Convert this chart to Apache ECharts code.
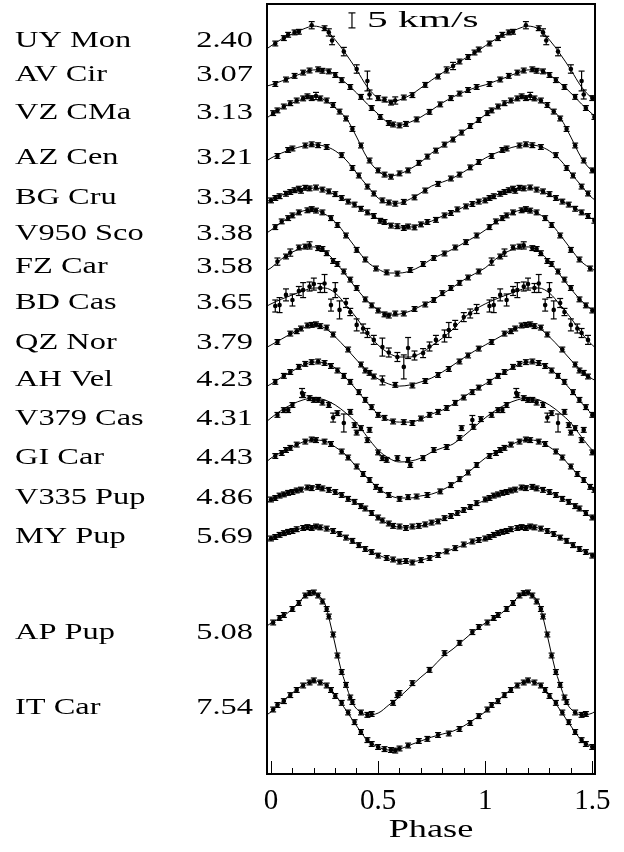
<!DOCTYPE html>
<html><head><meta charset="utf-8">
<script src="https://cdn.jsdelivr.net/npm/echarts@6/dist/echarts.min.js"></script>
<style>html,body{margin:0;padding:0;background:#fff}#c{width:624px;height:852px}</style>
</head><body><div id="c"></div>
<script>
// ---------------- DATA ----------------
const STARS = ['UY Mon','AV Cir','VZ CMa','AZ Cen','BG Cru','V950 Sco','FZ Car','BD Cas','QZ Nor','AH Vel','V379 Cas','GI Car','V335 Pup','MY Pup','AP Pup','IT Car'];
const PERIODS = ['2.40','3.07','3.13','3.21','3.34','3.38','3.58','3.65','3.79','4.23','4.31','4.43','4.86','5.69','5.08','7.54'];
// vertical offset of each curve (km/s, axis units)
const OFFSETS = [237,226,213,200,189,178,164,151,140,127,115,102,89,77,40,20];
const X_TICKS = [0, 0.5, 1, 1.5];
const SCALE_BAR_KMS = 5;

// fitted curves: relative velocity (km/s) on one cycle
const PHASE_GRID = [0,0.05,0.1,0.15,0.2,0.25,0.3,0.35,0.4,0.45,0.5,0.55,0.6,0.65,0.7,0.75,0.8,0.85,0.9,0.95];
const AP_PHASES = [0,0.05,0.1,0.15,0.2,0.225,0.25,0.275,0.3,0.325,0.35,0.375,0.4,0.45,0.5,0.55,0.6,0.65,0.7,0.75,0.8,0.85,0.9,0.95];

const UY_MON_FIT  = [5.7,8.0,9.7,11.3,12.3,11.3,7.7,3.0,-2.3,-8.0,-11.7,-13.0,-12.3,-10.7,-8.3,-5.7,-3.3,-1.0,1.3,3.3];
const AV_CIR_FIT  = [3.7,5.0,6.3,7.7,8.7,8.7,7.0,4.3,1.0,-2.7,-6.0,-9.0,-9.7,-8.7,-7.0,-4.7,-2.3,-0.3,1.3,2.7];
const VZ_CMA_FIT  = [6.7,9.0,10.7,12.0,12.7,11.7,9.0,5.7,-0.7,-7.7,-12.0,-13.7,-13.0,-11.3,-9.0,-6.0,-3.7,-1.3,1.3,4.0];
const AZ_CEN_FIT  = [5.3,7.0,8.3,9.3,9.7,9.3,7.7,4.7,0.3,-4.0,-8.0,-9.7,-9.7,-8.3,-6.3,-4.0,-2.7,-1.3,0.7,3.0];
const BG_CRU_FIT  = [2.3,4.0,5.0,6.0,6.3,5.7,4.0,2.3,0.3,-1.7,-4.0,-5.7,-6.7,-6.7,-5.7,-4.7,-3.0,-1.7,0.0,1.3];
const V950_SCO_FIT= [3.3,6.0,8.0,9.7,10.0,8.7,6.0,1.7,-3.0,-7.3,-9.7,-11.0,-11.0,-10.3,-8.7,-6.3,-4.7,-3.0,-1.0,1.0];
const FZ_CAR_FIT  = [4.7,7.7,10.0,11.3,11.7,10.3,6.7,2.3,-2.3,-6.3,-9.3,-11.0,-10.7,-9.7,-8.0,-6.3,-4.0,-1.7,0.7,2.7];
const BD_CAS_FIT  = [5.7,7.3,8.7,10.0,11.0,11.0,9.3,5.3,1.0,-4.0,-8.0,-10.7,-12.0,-12.0,-10.7,-8.3,-5.7,-2.7,1.0,3.7];
const QZ_NOR_FIT  = [3.0,5.0,7.0,8.7,9.7,8.7,5.7,2.0,-2.0,-5.7,-8.3,-10.0,-10.7,-10.3,-9.3,-8.0,-6.0,-3.7,-1.3,1.0];
const AH_VEL_FIT  = [3.0,5.3,7.3,9.3,10.3,10.0,8.3,5.0,1.0,-3.3,-7.0,-9.0,-9.7,-9.7,-8.7,-7.0,-5.7,-3.7,-1.3,1.0];
const V379_CAS_FIT= [3.7,6.3,8.3,9.7,10.3,9.7,8.0,5.3,2.0,-2.7,-7.0,-9.7,-11.0,-10.7,-9.7,-7.7,-6.3,-5.0,-2.3,0.7];
const GI_CAR_FIT  = [3.3,5.3,7.0,8.7,9.3,9.0,7.0,4.3,0.3,-3.3,-6.7,-9.0,-10.0,-10.0,-9.3,-8.7,-7.3,-5.3,-2.7,0.3];
const V335_PUP_FIT= [2.3,4.0,5.3,6.0,6.7,6.3,5.0,3.3,1.3,-1.0,-3.7,-5.7,-6.7,-6.7,-6.3,-5.3,-4.0,-2.7,-1.0,0.7];
const MY_PUP_FIT  = [1.3,3.0,4.0,5.0,5.3,5.0,3.7,2.0,-0.3,-2.3,-4.0,-5.3,-6.0,-6.3,-5.7,-4.7,-3.3,-2.0,-0.7,0.7];
const AP_PUP_FIT  = [10.3,12.3,15.0,18.7,20.5,19.3,17.0,10.7,3.0,-4.7,-10.3,-15.3,-18.3,-20.3,-19.7,-17.0,-14.3,-11.0,-7.7,-4.7,-1.0,1.7,4.7,7.7];
const IT_CAR_FIT  = [0.7,4.0,7.0,9.7,11.0,10.0,6.3,1.3,-4.0,-8.7,-11.0,-12.0,-11.7,-10.3,-9.0,-7.7,-6.7,-5.7,-4.0,-1.7];

// observations: [phase, relative velocity km/s, error km/s (optional)]
const UY_MON_OBS = [[.02,6.5],[.06,8.3],[.08,9.4],[.11,10.2],[.13,10.4],[.19,12.6,1.2],[.25,11.6],[.27,10.2,1.2],[.285,7.5,1.4],[.34,3.8,1.4],[.40,-2.0,1.4],[.45,-6.0,3.3],[.46,-10.5,1.5],[.50,-11.7],[.53,-12.2],[.56,-13.2],[.58,-12.5,1.2],[.62,-11.5],[.66,-10.7],[.72,-7.3],[.78,-4.5],[.82,-2.3,1.0],[.85,-1.0,1.2],[.88,0.5],[.92,2.0],[.95,3.5],[.97,4.5]];
const AV_CIR_OBS = [[.02,4.0],[.07,5.5],[.11,6.7],[.15,7.8],[.18,8.5],[.22,8.9],[.24,8.4],[.27,8.2],[.30,7.0],[.33,5.3],[.37,3.0],[.42,-0.3],[.47,-4.0],[.51,-7.0],[.55,-9.0],[.57,-9.5],[.60,-9.8],[.63,-9.3],[.68,-7.8],[.74,-5.3],[.79,-2.8],[.84,-0.7],[.88,0.8],[.92,2.0],[.96,3.0]];
const VZ_CMA_OBS = [[.01,7.3],[.03,8.2],[.06,9.5],[.09,10.6],[.12,11.5],[.15,12.2],[.17,12.9],[.19,12.3],[.21,13.0,1.2],[.23,12.2],[.26,11.5],[.29,10.0],[.32,7.8],[.35,5.5],[.38,2.0],[.42,-3.5],[.46,-8.5],[.50,-11.8],[.53,-13.2],[.56,-13.9],[.60,-12.8],[.64,-11.8],[.69,-9.3],[.73,-7.2],[.77,-5.2],[.81,-3.2],[.85,-1.5],[.89,0.8],[.93,3.0],[.97,5.0]];
const AZ_CEN_OBS = [[.03,6.0],[.08,8.0],[.10,8.5],[.16,9.5],[.19,9.9],[.22,9.6],[.26,9.0],[.33,6.3],[.38,2.0],[.41,-0.5],[.45,-4.2],[.48,-6.5],[.52,-8.8],[.55,-9.5],[.58,-9.9],[.62,-9.3],[.67,-7.8],[.72,-5.5],[.78,-3.3],[.84,-1.5],[.88,-0.2],[.93,2.2],[.97,4.0]];
const BG_CRU_OBS = [[.0,2.2],[.02,3.0],[.04,3.6],[.07,4.4],[.09,5.0],[.11,5.6],[.13,6.1],[.14,5.4],[.16,6.4],[.18,6.2],[.21,6.5],[.24,5.8],[.27,5.2],[.30,4.3],[.33,3.0],[.36,1.8],[.39,0.8],[.42,-0.6],[.45,-1.8],[.48,-3.0],[.51,-4.6],[.53,-5.0],[.56,-6.2],[.59,-6.4],[.62,-7.0],[.64,-6.5],[.67,-6.8],[.70,-5.8],[.73,-5.0],[.77,-4.3],[.81,-2.8],[.84,-2.0],[.87,-0.8],[.91,0.2],[.94,1.0],[.97,1.8]];
const V950_SCO_OBS = [[.02,4.3],[.05,6.2],[.08,7.3],[.10,8.2],[.13,9.2],[.17,9.9],[.19,10.3],[.21,9.8],[.24,9.2],[.28,7.3],[.31,5.0],[.35,1.5],[.40,-3.3],[.44,-6.5],[.49,-9.5],[.54,-10.8],[.59,-11.2],[.65,-10.0],[.71,-8.0],[.76,-6.0],[.81,-4.5],[.86,-2.5],[.91,-0.7],[.96,1.5]];
const FZ_CAR_OBS = [[.03,6.8,1.2],[.07,8.5],[.09,9.8,1.2],[.13,11.5],[.16,11.8],[.18,12.2,1.2],[.22,11.3],[.24,11.0],[.26,9.6],[.29,7.0],[.31,6.0],[.34,3.5],[.37,0.8],[.40,-2.0],[.44,-5.8],[.47,-7.8],[.50,-9.5],[.53,-10.8],[.55,-11.2],[.58,-10.5],[.62,-10.5],[.67,-9.0],[.72,-7.5],[.76,-6.0],[.80,-3.7],[.84,-2.0],[.88,-0.3],[.92,1.5],[.97,3.5]];
const BD_CAS_OBS = [[.02,5.0,2.0],[.04,5.3,2.5],[.07,8.7,2.0],[.10,7.0,2.0],[.13,10.0,1.5],[.15,10.3,2.5],[.18,11.5,1.5],[.20,12.3,2.0],[.23,11.0,1.5],[.25,12.5,3.0],[.28,5.3,2.0],[.30,10.3,2.5],[.32,3.7,3.0],[.35,6.0,1.5],[.37,3.0,1.2],[.40,-1.3,2.0],[.43,-2.5,1.5],[.45,-4.0,1.5],[.48,-6.3,1.5],[.52,-8.7,3.0],[.55,-10.5,1.5],[.59,-12.0,1.5],[.62,-15.3,4.0],[.64,-9.0,3.5],[.67,-11.5,1.5],[.71,-10.7,1.5],[.74,-8.5,1.5],[.77,-6.3,1.5],[.81,-5.0,2.0],[.83,-3.0,2.5],[.86,-1.3,1.5],[.90,1.3,1.5],[.93,2.5,1.5],[.96,4.0,1.5]];
const QZ_NOR_OBS = [[.03,4.0],[.09,6.8],[.12,7.6],[.14,8.5],[.17,9.5],[.19,9.7],[.21,9.9],[.23,9.3],[.26,8.8],[.29,6.5],[.36,1.5],[.42,-3.5],[.44,-5.5],[.46,-6.3],[.48,-7.5],[.52,-8.8,1.5],[.58,-10.3],[.66,-10.5],[.72,-9.0],[.78,-7.0],[.83,-5.0],[.88,-2.5],[.92,-0.5],[.97,1.8]];
const AH_VEL_OBS = [[.02,3.7],[.06,5.7],[.09,7.0],[.13,8.7],[.16,9.7],[.19,10.3],[.22,10.5],[.25,10.0],[.28,9.0],[.31,7.5],[.34,5.7],[.37,3.7],[.41,0.3],[.44,-2.3],[.47,-4.7],[.50,-7.3],[.53,-8.3],[.57,-9.5],[.62,-9.7],[.66,-10.0],[.70,-8.5],[.74,-7.3],[.78,-6.3],[.82,-5.0],[.86,-3.3],[.90,-1.5],[.94,0.3],[.97,1.8]];
const V379_CAS_OBS = [[.03,4.7],[.06,6.3],[.08,6.3],[.10,8.0],[.145,12.0,1.5],[.15,11.3],[.18,10.3],[.20,9.7],[.22,9.7],[.24,8.8],[.27,8.0],[.29,3.8,1.5],[.31,5.3],[.34,2.0,3.0],[.37,5.7],[.39,1.3],[.40,-1.2],[.42,0.3],[.45,-3.7],[.46,-0.3],[.50,-7.8],[.52,-9.7],[.54,-10.3],[.59,-9.7],[.64,-10.3],[.65,-12.0],[.71,-9.7],[.76,-7.0],[.82,-6.0],[.88,-3.0],[.89,0.3],[.94,3.0,1.5],[.945,0.7],[.98,3.3]];
const GI_CAR_OBS = [[.02,4.0],[.05,5.0],[.07,6.0],[.09,6.7],[.12,7.8],[.16,8.8],[.19,9.5],[.21,9.3],[.25,8.8],[.28,8.0],[.33,5.5],[.36,3.5],[.40,0.5],[.43,-2.0],[.46,-4.0],[.49,-6.3],[.51,-7.3],[.55,-9.0],[.60,-10.3],[.64,-9.7],[.68,-9.5],[.73,-9.0],[.79,-7.8],[.84,-5.7],[.88,-3.7],[.92,-1.5],[.96,1.0]];
const V335_PUP_OBS = [[.0,2.5],[.02,3.0],[.04,3.8],[.06,4.2],[.08,4.7],[.10,5.0],[.12,5.5],[.14,5.8],[.17,6.5],[.19,6.3],[.22,6.7],[.24,6.2],[.27,5.7],[.30,5.0],[.33,4.0],[.36,2.7],[.39,1.7],[.42,0.3],[.44,-0.5],[.47,-2.0],[.50,-3.5],[.52,-4.5],[.55,-5.5],[.57,-6.3],[.60,-6.5],[.63,-7.0],[.66,-6.5],[.69,-6.3],[.72,-5.8],[.75,-5.2],[.78,-4.8],[.81,-3.7],[.84,-3.0],[.87,-2.0],[.90,-1.0],[.93,0.0],[.96,1.3]];
const MY_PUP_OBS = [[.0,1.5],[.02,2.0],[.04,2.7],[.06,3.3],[.08,3.7],[.10,4.0],[.12,4.6],[.15,5.0],[.17,5.3],[.19,5.0],[.21,5.5],[.23,5.2],[.26,4.8],[.29,4.0],[.32,3.0],[.35,1.8],[.38,0.7],[.41,-0.7],[.44,-2.0],[.47,-3.0],[.50,-4.2],[.54,-5.0],[.57,-5.5],[.60,-6.2],[.63,-6.0],[.66,-6.5],[.70,-5.7],[.74,-5.0],[.78,-4.0],[.82,-2.8],[.86,-1.7],[.90,-0.5],[.94,0.5],[.97,1.0]];
const AP_PUP_OBS = [[.01,10.5],[.04,12.0],[.06,13.0],[.10,15.0],[.13,17.0],[.16,19.5],[.18,20.3],[.20,20.5],[.22,19.5],[.24,17.5],[.26,15.0],[.27,12.5],[.29,6.5],[.31,-0.5],[.33,-6.0],[.35,-10.3],[.37,-14.5],[.38,-16.0],[.42,-19.5],[.45,-20.3],[.47,-20.0],[.57,-16.3],[.59,-13.7],[.60,-13.0],[.66,-9.7],[.74,-5.3],[.81,0.3],[.88,3.7],[.94,7.3],[.97,9.0]];
const IT_CAR_OBS = [[.01,1.5],[.03,3.0],[.06,4.3],[.09,6.3],[.12,8.0],[.15,9.5],[.18,10.5],[.20,11.2],[.23,10.5],[.26,9.5],[.28,8.0],[.30,6.0],[.33,3.7],[.36,0.5],[.39,-2.7],[.42,-6.0],[.45,-8.7],[.47,-10.0],[.50,-11.0],[.53,-11.7],[.56,-12.0],[.58,-12.2],[.60,-11.5],[.64,-10.5],[.69,-9.0],[.73,-8.3],[.78,-7.0],[.83,-6.5],[.88,-5.0],[.93,-3.0],[.97,-0.7]];

// ---------------- ASSEMBLY ----------------
const FITS = [UY_MON_FIT,AV_CIR_FIT,VZ_CMA_FIT,AZ_CEN_FIT,BG_CRU_FIT,V950_SCO_FIT,FZ_CAR_FIT,BD_CAS_FIT,QZ_NOR_FIT,AH_VEL_FIT,V379_CAS_FIT,GI_CAR_FIT,V335_PUP_FIT,MY_PUP_FIT,AP_PUP_FIT,IT_CAR_FIT];
const FIT_PHASES = FITS.map((f,i)=> i===14 ? AP_PHASES : PHASE_GRID);
const OBS = [UY_MON_OBS,AV_CIR_OBS,VZ_CMA_OBS,AZ_CEN_OBS,BG_CRU_OBS,V950_SCO_OBS,FZ_CAR_OBS,BD_CAS_OBS,QZ_NOR_OBS,AH_VEL_OBS,V379_CAS_OBS,GI_CAR_OBS,V335_PUP_OBS,MY_PUP_OBS,AP_PUP_OBS,IT_CAR_OBS];

// layout (pixels)
const PX_PER_UNIT = 214.2, X0 = 271, BOX_L = 267, BOX_R = 595, BOX_T = 4, BOX_B = 774;
const XMIN = (BOX_L - X0) / PX_PER_UNIT, XMAX = (BOX_R - X0) / PX_PER_UNIT;
const YMAX = (BOX_B - BOX_T) / 3;   // 3 px per km/s
const LABEL_Y = [41,75,113,158,198,234,267,303,343,380,419,458,498,537,633,708];
const FONT = '"Liberation Serif", "Times New Roman", serif';

const series = [];
FITS.forEach((fit, i) => {
  const ph = FIT_PHASES[i];
  const data = [];
  [-1, 0, 1].forEach(k => {
    ph.forEach((p, j) => {
      const x = p + k;
      if (x >= -0.12 && x <= 1.62) data.push([x, OFFSETS[i] + fit[j]]);
    });
  });
  series.push({
    type: 'line', xAxisIndex: 0, yAxisIndex: 0, data, smooth: 0.35, showSymbol: false,
    lineStyle: { color: '#000', width: 1 }, silent: true, clip: true, z: 2
  });
  const pts = [];
  OBS[i].forEach(o => {
    [-1, 0, 1].forEach(k => {
      const x = o[0] + k;
      if (x >= XMIN && x <= XMAX) pts.push([x, OFFSETS[i] + o[1], o[2] != null ? o[2] : 0.8]);
    });
  });
  series.push({
    type: 'custom', xAxisIndex: 0, yAxisIndex: 0, data: pts, silent: true, clip: true, z: 3,
    renderItem: (params, api) => {
      const x = api.value(0), v = api.value(1), e = api.value(2);
      const c = api.coord([x, v]), t = api.coord([x, v + e]), b = api.coord([x, v - e]);
      const hw = 3;
      const st = { stroke: '#000', lineWidth: 1.2 };
      return { type: 'group', children: [
        { type: 'line', shape: { x1: c[0], y1: t[1], x2: c[0], y2: b[1] }, style: st },
        { type: 'line', shape: { x1: c[0]-hw, y1: t[1], x2: c[0]+hw, y2: t[1] }, style: st },
        { type: 'line', shape: { x1: c[0]-hw, y1: b[1], x2: c[0]+hw, y2: b[1] }, style: st },
        { type: 'circle', shape: { cx: c[0], cy: c[1], r: 2.3 }, style: { fill: '#000' } }
      ]};
    }
  });
});

// 5 km/s scale bar
series.push({
  type: 'custom', xAxisIndex: 0, yAxisIndex: 0, data: [[0.378, 251.2, SCALE_BAR_KMS]], silent: true, z: 4,
  renderItem: (params, api) => {
    const x = api.value(0), v = api.value(1), len = api.value(2);
    const t = api.coord([x, v + len/2]), b = api.coord([x, v - len/2]);
    const hw = 3.5, st = { stroke: '#000', lineWidth: 1.2 };
    return { type: 'group', children: [
      { type: 'line', shape: { x1: t[0], y1: t[1], x2: t[0], y2: b[1] }, style: st },
      { type: 'line', shape: { x1: t[0]-hw, y1: t[1], x2: t[0]+hw, y2: t[1] }, style: st },
      { type: 'line', shape: { x1: t[0]-hw, y1: b[1], x2: t[0]+hw, y2: b[1] }, style: st }
    ]};
  }
});

const graphics = [];
STARS.forEach((s, i) => {
  graphics.push({ type: 'text', x: 15, y: LABEL_Y[i], scaleX: 1.35, silent: true,
    style: { text: s, font: '24px ' + FONT, fill: '#000', textAlign: 'left', align: 'left', textVerticalAlign: 'middle', verticalAlign: 'middle' } });
  graphics.push({ type: 'text', x: 253, y: LABEL_Y[i], scaleX: 1.35, silent: true,
    style: { text: PERIODS[i], font: '24px ' + FONT, fill: '#000', textAlign: 'right', align: 'right', textVerticalAlign: 'middle', verticalAlign: 'middle' } });
});
graphics.push({ type: 'text', x: 367, y: 21, scaleX: 1.8, silent: true,
  style: { text: SCALE_BAR_KMS + ' km/s', font: '23px ' + FONT, fill: '#000', textAlign: 'left', align: 'left', textVerticalAlign: 'middle', verticalAlign: 'middle' } });
graphics.push({ type: 'text', x: 431, y: 830, scaleX: 1.45, silent: true,
  style: { text: 'Phase', font: '25px ' + FONT, fill: '#000', textAlign: 'center', align: 'center', textVerticalAlign: 'middle', verticalAlign: 'middle' } });

const chart = echarts.init(document.getElementById('c'), null, { renderer: 'canvas' });
chart.setOption({
  animation: false,
  backgroundColor: '#fff',
  grid: [
    { left: BOX_L, top: BOX_T, width: BOX_R - BOX_L, height: BOX_B - BOX_T, show: true, borderColor: '#000', borderWidth: 2, backgroundColor: 'transparent' },
    { left: X0, top: BOX_T, width: PX_PER_UNIT * 1.5, height: BOX_B - BOX_T }
  ],
  xAxis: [
    { gridIndex: 0, type: 'value', min: XMIN, max: XMAX, show: false },
    { gridIndex: 1, type: 'value', min: X_TICKS[0], max: X_TICKS[X_TICKS.length-1], interval: 0.5,
      axisLine: { show: false },
      axisTick: { show: true, inside: true, length: 13, lineStyle: { color: '#000', width: 1 } },
      minorTick: { show: true, splitNumber: 5, length: 6, lineStyle: { color: '#000', width: 1 } },
      splitLine: { show: false },
      axisLabel: { fontFamily: FONT, fontSize: 29, color: '#000', margin: 27, verticalAlign: 'middle' } }
  ],
  yAxis: [
    { gridIndex: 0, type: 'value', min: 0, max: YMAX, show: false },
    { gridIndex: 1, type: 'value', min: 0, max: 1, show: false }
  ],
  series,
  graphic: graphics
});
</script>
</body></html>
